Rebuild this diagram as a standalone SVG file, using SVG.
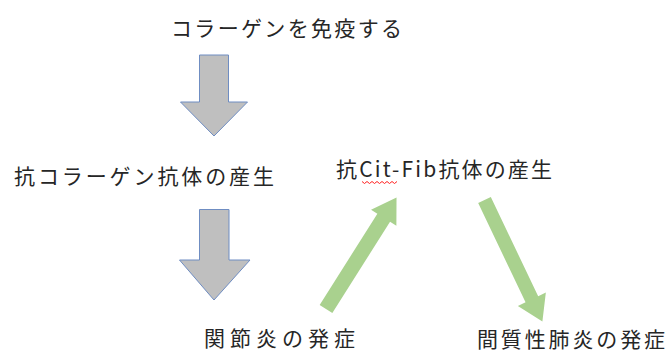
<svg xmlns="http://www.w3.org/2000/svg" width="667" height="352" viewBox="0 0 667 352">
<style>
.t{font-family:"Noto Sans CJK JP","Noto Sans",sans-serif;font-size:21px;fill:#262626}
.ga{fill:#BFBFBF;stroke:#6F8DC2;stroke-width:1}
.gr{fill:#A9D18E}
</style>
<rect width="667" height="352" fill="#fff"/>
<g id="n1"><text class="t" x="171" y="35.5" textLength="231" lengthAdjust="spacing">コラーゲンを免疫する</text></g>
<g id="n2"><text class="t" x="14" y="184" textLength="260" lengthAdjust="spacing">抗コラーゲン抗体の産生</text></g>
<g id="n3"><text class="t" x="336" y="177" textLength="216" lengthAdjust="spacing">抗Cit-Fib抗体の産生</text>
<path d="M362 181.5 l2.5 2 l2.5 -2 l2.5 2 l2.5 -2 l2.5 2 l2.5 -2 l2.5 2 l2.5 -2 l2.5 2 l2.5 -2 l2.5 2 l2.5 -2 l2.5 2 l2.5 -2" fill="none" stroke="#FF2020" stroke-width="1"/></g>
<g id="n4"><text class="t" x="204" y="345.5" textLength="151" lengthAdjust="spacing">関節炎の発症</text></g>
<g id="n5"><text class="t" x="477" y="347" textLength="188" lengthAdjust="spacing">間質性肺炎の発症</text></g>
<g id="connectors">
<polygon class="ga" points="199.5,55 228.5,55 228.5,102 247.5,102 214,136 180.5,102 199.5,102"/>
<polygon class="ga" points="199.5,209.5 229,209.5 229,260 250,260 214,300 179.5,260 199.5,260"/>
<polygon class="gr" transform="translate(326,309) rotate(-57.7)" points="0,-7.5 108,-7.5 108,-15 132,0 108,15 108,7.5 0,7.5"/>
<polygon class="gr" transform="translate(484.5,200) rotate(64.5)" points="0,-7 110,-7 110,-15.5 134.5,0 110,15.5 110,7 0,7"/>
</g>
</svg>
